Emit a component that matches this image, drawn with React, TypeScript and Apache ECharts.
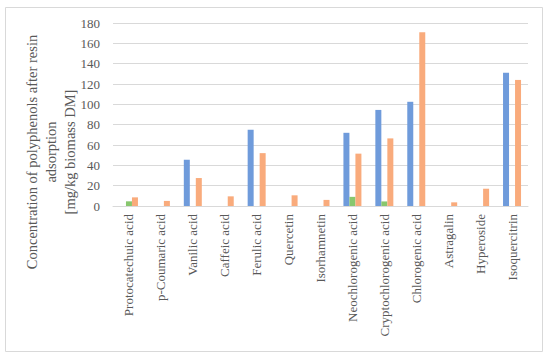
import React, { useEffect, useRef } from "react";
import * as echarts from "echarts";

const categories = [
  "Protocatechuic acid",
  "p-Coumaric acid",
  "Vanilic acid",
  "Caffeic acid",
  "Ferulic acid",
  "Quercetin",
  "Isorhamnetin",
  "Neochlorogenic acid",
  "Cryptochlorogenic acid",
  "Chlorogenic acid",
  "Astragalin",
  "Hyperoside",
  "Isoquercitrin",
];

const blueValues = [0, 0, 45.5, 0, 75, 0, 0, 72, 94.5, 102.5, 0, 0, 131];
const greenValues = [4.6, 0, 0, 0, 0, 0, 0, 9, 4.5, 0, 0, 0, 0];
const orangeValues = [8.5, 5, 27.5, 9.5, 52, 10.5, 6, 51.5, 66.5, 171, 3.6, 17, 124];

const yTicks = [0, 20, 40, 60, 80, 100, 120, 140, 160, 180];

const FONT = "'Liberation Serif', serif";
const TEXT = "#595959";

export default function App() {
  const ref = useRef<HTMLDivElement>(null);
  useEffect(() => {
    document.body.style.margin = "0";
    const chart = echarts.init(ref.current!, null, { renderer: "svg" });
    const bar = (name: string, data: number[], color: string) => ({
      name,
      type: "bar",
      data,
      barWidth: 6,
      barGap: "0%",
      itemStyle: { color },
    });
    chart.setOption({
      animation: false,
      backgroundColor: "#ffffff",
      grid: { left: 113, right: 22, top: 23, bottom: 152 },
      xAxis: {
        type: "category",
        data: categories,
        axisLine: { lineStyle: { color: "#d9d9d9" } },
        axisTick: { show: false },
        axisLabel: {
          rotate: 90,
          interval: 0,
          margin: 8,
          color: TEXT,
          fontFamily: FONT,
          fontSize: 13,
        },
      },
      yAxis: {
        type: "value",
        min: yTicks[0],
        max: yTicks[yTicks.length - 1],
        interval: 20,
        axisLine: { show: false },
        axisTick: { show: false },
        splitLine: { lineStyle: { color: "#d9d9d9" } },
        axisLabel: {
          margin: 13,
          color: TEXT,
          fontFamily: FONT,
          fontSize: 13,
        },
      },
      graphic: [
        {
          type: "rect",
          shape: { x: 5.5, y: 7.5, width: 537, height: 344 },
          style: { fill: "none", stroke: "#d9d9d9", lineWidth: 1 },
          silent: true,
        },
        {
          type: "text",
          x: 51,
          y: 152,
          rotation: Math.PI / 2,
          style: {
            text: "Concentration of polyphenols after resin\nadsorption\n[mg/kg biomass DM]",
            fill: TEXT,
            font: `14.5px ${FONT}`,
            align: "center",
            verticalAlign: "middle",
            lineHeight: 19,
          },
        },
      ],
      series: [
        bar("Series 1", blueValues, "#6F9BDB"),
        bar("Series 2", greenValues, "#88C76E"),
        bar("Series 3", orangeValues, "#F9AB7C"),
      ],
    });
    return () => chart.dispose();
  }, []);
  return <div ref={ref} style={{ width: 550, height: 358 }} />;
}
